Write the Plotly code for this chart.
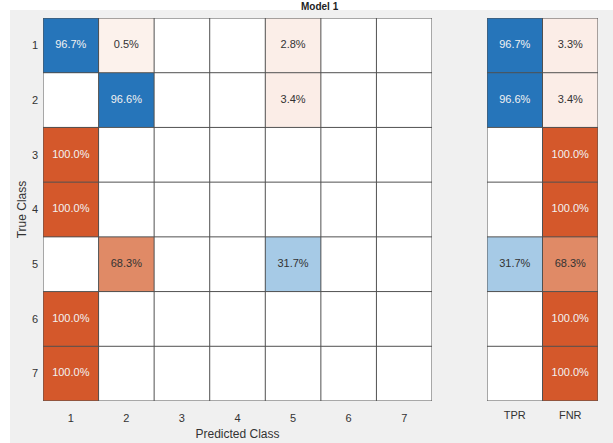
import plotly.graph_objects as go

# Row-normalised confusion matrix (percent), rows = true class, cols = predicted class
classes = [1, 2, 3, 4, 5, 6, 7]
row1 = [96.7, 0.5, 0, 0, 2.8, 0, 0]
row2 = [0, 96.6, 0, 0, 3.4, 0, 0]
row3 = [100.0, 0, 0, 0, 0, 0, 0]
row4 = [100.0, 0, 0, 0, 0, 0, 0]
row5 = [0, 68.3, 0, 0, 31.7, 0, 0]
row6 = [100.0, 0, 0, 0, 0, 0, 0]
row7 = [100.0, 0, 0, 0, 0, 0, 0]
matrix = [row1, row2, row3, row4, row5, row6, row7]

# Per-class summary: true positive rate / false negative rate
summary_labels = ["TPR", "FNR"]
tpr = [96.7, 96.6, 0, 0, 31.7, 0, 0]
fnr = [3.3, 3.4, 100.0, 100.0, 68.3, 100.0, 100.0]

# White for empty cells, a faint tint for small shares, full colour at 100 %
BLUE = [[0, "#ffffff"], [0.002, "#f2f7fc"], [0.317, "#a6cae6"], [1, "#1f71b8"]]
ORANGE = [[0, "#ffffff"], [0.002, "#fcf2ed"], [0.683, "#e08a66"], [1, "#d4582b"]]
FONT = "Liberation Sans, Arial, sans-serif"
GRID = "#505050"

n = len(classes)
diag = [[matrix[i][j] if i == j else None for j in range(n)] for i in range(n)]
offd = [[0 if i == j else matrix[i][j] for j in range(n)] for i in range(n)]
sum_good = [[tpr[i], None] for i in range(n)]
sum_bad = [[0, fnr[i]] for i in range(n)]

fig = go.Figure()
hm = dict(zmin=0, zmax=100, showscale=False, hoverinfo="skip")
fig.add_trace(go.Heatmap(z=offd, x=classes, y=classes, colorscale=ORANGE, **hm))
fig.add_trace(go.Heatmap(z=diag, x=classes, y=classes, colorscale=BLUE, **hm))
fig.add_trace(go.Heatmap(z=sum_bad, x=[0, 1], y=classes, colorscale=ORANGE,
                         xaxis="x2", yaxis="y", **hm))
fig.add_trace(go.Heatmap(z=sum_good, x=[0, 1], y=classes, colorscale=BLUE,
                         xaxis="x2", yaxis="y", **hm))


def txt_color(v):
    return "#f2f2f2" if v >= 80 else "#333333"


# Cell labels
tx, ty, tt, tc = [], [], [], []
for i in range(n):
    for j in range(n):
        v = matrix[i][j]
        if v > 0:
            tx.append(classes[j]); ty.append(classes[i])
            tt.append(f"{v:.1f}%"); tc.append(txt_color(v))
fig.add_trace(go.Scatter(x=tx, y=ty, text=tt, mode="text",
                         textfont=dict(family=FONT, size=11, color=tc),
                         hoverinfo="skip", showlegend=False))

sx, sy, st, sc = [], [], [], []
for i in range(n):
    for k, v in enumerate((tpr[i], fnr[i])):
        if v > 0:
            sx.append(k); sy.append(classes[i])
            st.append(f"{v:.1f}%"); sc.append(txt_color(v))
fig.add_trace(go.Scatter(x=sx, y=sy, text=st, mode="text", xaxis="x2", yaxis="y",
                         textfont=dict(family=FONT, size=11, color=sc),
                         hoverinfo="skip", showlegend=False))

W, H = 613, 443
ML, MR, MT, MB = 43, 15, 18, 42
pw, ph = W - ML - MR, H - MT - MB


def px(x):
    return (x - ML) / pw


def py(y):
    return (H - MB - y) / ph


# Light panel behind the charts, then the cell borders
shapes = [dict(type="rect", xref="paper", yref="paper", layer="below",
               x0=px(10), x1=px(W + 5), y0=py(H + 5), y1=py(10),
               fillcolor="#f0f0f0", line=dict(width=0))]
line = dict(color=GRID, width=1)
for k in range(n + 1):
    b = k + 0.5
    shapes.append(dict(type="line", xref="x", yref="y", x0=b, x1=b, y0=0.5, y1=n + 0.5, line=line))
    shapes.append(dict(type="line", xref="x", yref="y", x0=0.5, x1=n + 0.5, y0=b, y1=b, line=line))
    shapes.append(dict(type="line", xref="x2", yref="y", x0=-0.5, x1=1.5, y0=b, y1=b, line=line))
for b in (-0.5, 0.5, 1.5):
    shapes.append(dict(type="line", xref="x2", yref="y", x0=b, x1=b, y0=0.5, y1=n + 0.5, line=line))

axis_common = dict(showline=False, showgrid=False, zeroline=False, ticks="",
                   automargin=False,
                   tickfont=dict(family=FONT, size=11, color="#333333"))

fig.update_layout(
    width=W, height=H,
    margin=dict(l=ML, r=MR, t=MT, b=MB),
    paper_bgcolor="#ffffff",
    plot_bgcolor="#ffffff",
    showlegend=False,
    xaxis=dict(domain=[0, px(432)], tickmode="array", tickvals=classes,
               range=[0.5, n + 0.5], ticklabelstandoff=9,
               title=dict(text="Predicted Class", standoff=6,
                          font=dict(family=FONT, size=12, color="#333333")),
               **axis_common),
    xaxis2=dict(domain=[px(487), 1], anchor="y", tickmode="array",
                tickvals=[0, 1], ticktext=summary_labels, ticklabelstandoff=6,
                range=[-0.5, 1.5], **axis_common),
    yaxis=dict(domain=[0, 1], tickmode="array", tickvals=classes,
               range=[n + 0.5, 0.5], ticklabelstandoff=4,
               title=dict(text="True Class", standoff=2,
                          font=dict(family=FONT, size=12, color="#333333")),
               **axis_common),
    shapes=shapes,
    annotations=[dict(text="<b>Model 1</b>", xref="paper", yref="paper",
                      x=px(320), y=py(13), xanchor="center", yanchor="bottom",
                      showarrow=False, borderpad=0,
                      font=dict(family=FONT, size=10, color="#222222"))],
)

fig.write_html("out.html")
